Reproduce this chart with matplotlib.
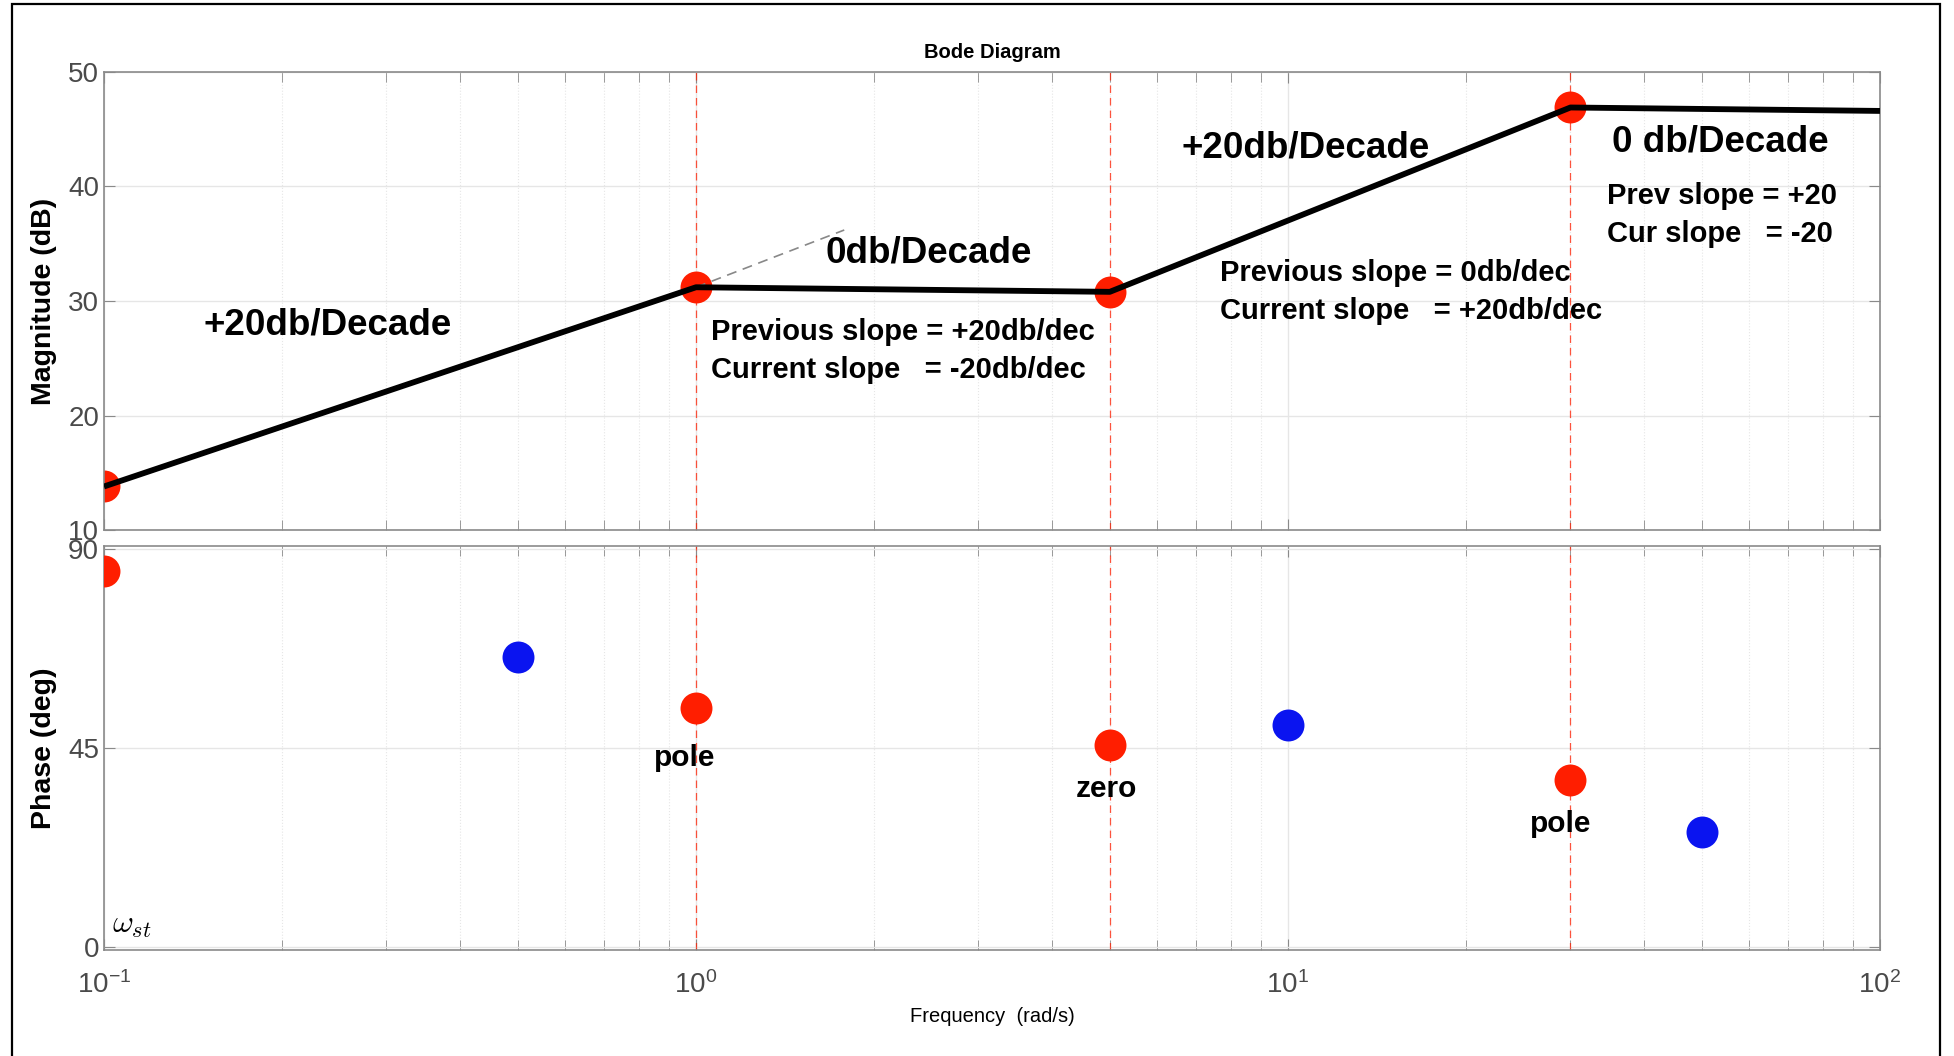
import matplotlib

matplotlib.use("Agg", force=True)
import matplotlib.pyplot as plt
from matplotlib.patches import Rectangle
from matplotlib.ticker import LogLocator, NullFormatter

plt.rcParams["font.family"] = ["Liberation Sans", "DejaVu Sans"]
plt.rcParams["mathtext.fontset"] = "cm"

# asymptotic magnitude curve (break points)
mag_freq = [0.1, 1.0, 5.0, 30.0, 100.0]
mag_db = [13.8, 31.2, 30.8, 46.9, 46.6]
dot_freq = [0.1, 1.0, 5.0, 30.0]
dot_db = [13.8, 31.2, 30.8, 46.9]
# +20 dB/dec continued past the first pole
ext_freq = [1.0, 1.78]
ext_db = [31.2, 36.2]
corner_freq = [1.0, 5.0, 30.0]

# phase markers
red_freq = [0.1, 1.0, 5.0, 30.0]
red_deg = [85.0, 54.0, 45.7, 37.8]
blue_freq = [0.5, 10.0, 50.0]
blue_deg = [65.5, 50.2, 26.0]

RED = "#ff1e00"
BLUE = "#0a14f0"
GRID = "#e6e6e6"
SPINE = "#8a8a8a"
TICKCOL = "#4a4a4a"

W, H = 1954, 1056
fig = plt.figure(figsize=(W / 100, H / 100), dpi=100)

ax1 = fig.add_axes([104 / W, 1 - 530 / H, (1880 - 104) / W, (530 - 72) / H])
ax2 = fig.add_axes([104 / W, 1 - 950 / H, (1880 - 104) / W, (950 - 546) / H])


def style(ax):
    ax.set_xscale("log")
    ax.set_xlim(0.1, 100)
    ax.xaxis.set_major_locator(LogLocator(base=10))
    ax.xaxis.set_minor_locator(LogLocator(base=10, subs=range(2, 10)))
    ax.xaxis.set_minor_formatter(NullFormatter())
    ax.grid(True, which="major", color=GRID, lw=1.0)
    ax.grid(True, which="minor", axis="x", color=GRID, lw=0.8, ls=":")
    ax.tick_params(which="both", direction="in", top=True, right=True,
                   color=SPINE, labelcolor=TICKCOL, labelsize=20)
    ax.tick_params(which="major", length=8)
    ax.tick_params(which="minor", length=7)
    ax.tick_params(axis="x", pad=15)
    for s in ax.spines.values():
        s.set_color(SPINE)
        s.set_linewidth(1.2)
    ax.set_axisbelow(True)


style(ax1)
style(ax2)

# magnitude
ax1.set_ylim(10, 50)
ax1.set_yticks([10, 20, 30, 40, 50])
ax1.tick_params(labelbottom=False)
for f in corner_freq:
    ax1.axvline(f, color=RED, lw=0.9, ls=(0, (6, 4)), alpha=0.75, zorder=1)
ax1.plot(dot_freq, dot_db, "o", color=RED, ms=23, mec="none", zorder=2)
ax1.plot(ext_freq, ext_db, color="#888888", lw=1.2, ls=(0, (6, 4)), zorder=2)
ax1.plot(mag_freq, mag_db, color="black", lw=4.2, zorder=3, solid_capstyle="butt")

big = dict(fontsize=26.5, fontweight="bold", ha="center", va="center")
ax1.text(0.239, 27.9, "+20db/Decade", **big)
ax1.text(2.47, 34.2, "0db/Decade", **big)
ax1.text(10.7, 43.4, "+20db/Decade", **big)
ax1.text(53.7, 43.9, "0 db/Decade", **big)

small = dict(fontsize=21, fontweight="bold", ha="left", va="center", linespacing=1.45)
ax1.text(1.06, 25.6, "Previous slope = +20db/dec\nCurrent slope   = -20db/dec", **small)
ax1.text(7.68, 30.8, "Previous slope = 0db/dec\nCurrent slope   = +20db/dec", **small)
ax1.text(34.6, 37.5, "Prev slope = +20\nCur slope   = -20", **small)

ax1.set_ylabel("Magnitude (dB)", fontsize=20.5, fontweight="bold", labelpad=8)
ax1.set_title("Bode Diagram", fontsize=14.5, fontweight="bold", pad=10)

# phase
ax2.set_ylim(-0.7, 90.7)
ax2.set_yticks([0, 45, 90])
for f in corner_freq:
    ax2.axvline(f, color=RED, lw=0.9, ls=(0, (6, 4)), alpha=0.75, zorder=1)
ax2.plot(red_freq, red_deg, "o", color=RED, ms=23, mec="none", zorder=3)
ax2.plot(blue_freq, blue_deg, "o", color=BLUE, ms=23, mec="none", zorder=3)

lab = dict(fontsize=21.5, fontweight="bold", ha="center", va="center")
ax2.text(0.957, 42.7, "pole", **lab)
ax2.text(4.94, 35.7, "zero", **lab)
ax2.text(28.9, 27.8, "pole", **lab)
ax2.text(0.103, 5.0, r"$\omega_{st}$", fontsize=23, ha="left", va="center")

ax2.set_ylabel("Phase (deg)", fontsize=20.5, fontweight="bold", labelpad=8)
ax2.set_xlabel("Frequency  (rad/s)", fontsize=14.5, labelpad=6)

# outer frame
fig.patches.append(Rectangle((12 / W, -0.01), (1940 - 12) / W, 1.01 - 4 / H,
                             transform=fig.transFigure, fill=False,
                             edgecolor="black", lw=1.6))

fig.savefig("out.png", dpi=100)
